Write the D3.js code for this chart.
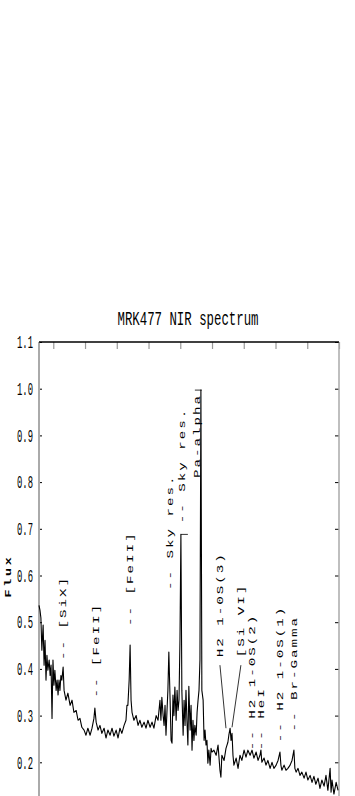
<!DOCTYPE html>
<html>
<head>
<meta charset="utf-8">
<script src="https://cdn.jsdelivr.net/npm/d3@7"></script>
<style>
  body { margin: 0; background: #fff; }
  svg { display: block; }
</style>
</head>
<body>
<div class="chart"></div>
<script>
// spectrum (wavelength in micron, flux arbitrary)
var wavelength = [1.405,1.408,1.411,1.414,1.418,1.421,1.424,1.427,1.430,1.433,1.437,1.440,1.443,1.446,1.449,1.452,1.455,1.459,1.462,1.465,1.468,1.471,1.474,1.477,1.481,1.484,1.490,1.496,1.503,1.509,1.515,1.522,1.528,1.534,1.540,1.547,1.553,1.559,1.566,1.572,1.578,1.581,1.585,1.591,1.597,1.603,1.610,1.616,1.622,1.629,1.635,1.641,1.648,1.654,1.660,1.666,1.673,1.679,1.682,1.685,1.689,1.692,1.695,1.698,1.704,1.711,1.717,1.723,1.729,1.736,1.742,1.748,1.755,1.761,1.767,1.774,1.780,1.786,1.789,1.792,1.796,1.799,1.802,1.805,1.808,1.811,1.814,1.818,1.821,1.824,1.827,1.830,1.833,1.837,1.840,1.843,1.846,1.849,1.852,1.855,1.859,1.862,1.865,1.868,1.871,1.874,1.877,1.881,1.884,1.887,1.890,1.893,1.896,1.900,1.903,1.906,1.909,1.912,1.915,1.918,1.922,1.925,1.928,1.931,1.934,1.937,1.940,1.944,1.947,1.950,1.956,1.963,1.969,1.975,1.978,1.981,1.988,1.994,2.000,2.003,2.007,2.010,2.013,2.016,2.019,2.026,2.032,2.038,2.044,2.051,2.057,2.063,2.070,2.076,2.082,2.089,2.095,2.101,2.104,2.107,2.114,2.120,2.126,2.133,2.139,2.145,2.152,2.158,2.164,2.167,2.170,2.177,2.183,2.189,2.196,2.202,2.208,2.211,2.215,2.221,2.227,2.233,2.240,2.246,2.252,2.259,2.265,2.271,2.277,2.284,2.290,2.296,2.303,2.309,2.315,2.322,2.325,2.328,2.334,2.341,2.347];
var flux = [0.536,0.526,0.509,0.440,0.494,0.408,0.461,0.376,0.429,0.397,0.419,0.386,0.408,0.294,0.419,0.365,0.397,0.354,0.376,0.344,0.376,0.354,0.386,0.376,0.404,0.354,0.333,0.348,0.322,0.333,0.307,0.311,0.290,0.294,0.275,0.269,0.258,0.273,0.258,0.273,0.294,0.316,0.286,0.269,0.279,0.262,0.273,0.252,0.269,0.258,0.273,0.256,0.269,0.252,0.273,0.262,0.279,0.290,0.322,0.322,0.376,0.451,0.333,0.307,0.290,0.300,0.279,0.290,0.275,0.286,0.273,0.290,0.275,0.286,0.273,0.300,0.290,0.333,0.290,0.339,0.300,0.279,0.322,0.258,0.307,0.354,0.436,0.333,0.247,0.241,0.344,0.300,0.361,0.290,0.354,0.311,0.333,0.460,0.688,0.354,0.258,0.333,0.279,0.354,0.290,0.237,0.363,0.269,0.322,0.226,0.290,0.247,0.279,0.258,0.307,0.333,0.354,0.419,0.997,0.354,0.333,0.247,0.269,0.237,0.247,0.198,0.226,0.194,0.230,0.222,0.226,0.215,0.237,0.183,0.168,0.215,0.204,0.230,0.243,0.258,0.273,0.247,0.262,0.215,0.194,0.209,0.187,0.215,0.204,0.226,0.211,0.226,0.215,0.226,0.209,0.222,0.204,0.215,0.226,0.200,0.209,0.194,0.204,0.187,0.200,0.187,0.194,0.204,0.222,0.194,0.183,0.194,0.183,0.187,0.194,0.204,0.226,0.187,0.179,0.187,0.172,0.179,0.166,0.179,0.162,0.172,0.157,0.170,0.153,0.166,0.144,0.162,0.149,0.172,0.140,0.187,0.136,0.162,0.132,0.157,0.140];

// line identifications: where each label starts (bottom of rotated text)
var lineNames = ["-- [SiX]","-- [FeII]","-- [FeII]","-- Sky res.","-- Sky res.","Pa-alpha","H2 1-0S(3)","[Si VI]","-- H2 1-0S(2)","-- HeI","-- H2 1-0S(1)","-- Br-Gamma"];
var lineWave  = [1.481,1.585,1.692,1.818,1.855,1.903,1.975,2.041,2.076,2.104,2.164,2.208];
var lineFlux  = [0.419,0.339,0.492,0.569,0.712,0.809,0.425,0.425,0.226,0.226,0.243,0.266];

// leader lines from label to line peak: [w1, f1, w2, f2]
var leaders = [
  [1.975, 0.408, 1.994, 0.273],
  [2.041, 0.408, 2.013, 0.275],
  [1.896, 0.997, 1.918, 0.997],
  [1.852, 0.688, 1.874, 0.688]
];

var xTicks = [1.45,1.55,1.65,1.75,1.85,1.95,2.05,2.15,2.25,2.35];
var yTicks = [0.1,0.2,0.3,0.4,0.5,0.6,0.7,0.8,0.9,1.0,1.1];
var yLabels = [0.2,0.3,0.4,0.5,0.6,0.7,0.8,0.9,1.0,1.1];

var width = 355, height = 796;
var plotLeft = 39, plotRight = 339, plotTop = 342, plotBottom = 809;

var svg = d3.select(".chart").append("svg")
    .attr("width", width)
    .attr("height", height);

var x = d3.scaleLinear().domain([1.405, 2.35]).range([plotLeft, plotRight]);
var y = d3.scaleLinear().domain([0.1, 1.1]).range([plotBottom, plotTop]);

/************* title ***************/
svg.append("text")
    .attr("x", 188)
    .attr("y", 325)
    .attr("text-anchor", "middle")
    .attr("textLength", 141)
    .attr("lengthAdjust", "spacingAndGlyphs")
    .style("font-family", "Liberation Mono, monospace")
    .style("font-size", "20px")
    .text("MRK477 NIR spectrum");

/************* axes ***************/
var topAxis = svg.append("g")
    .attr("transform", "translate(0," + plotTop + ")")
    .call(d3.axisTop(x).tickValues(xTicks).tickSize(-7).tickFormat(""));
topAxis.select(".domain").remove();
topAxis.selectAll("line").attr("stroke", "#999").attr("stroke-width", 1.2);

var bottomAxis = svg.append("g")
    .attr("transform", "translate(0," + plotBottom + ")")
    .call(d3.axisBottom(x).tickValues(xTicks).tickSize(-7).tickFormat(""));
bottomAxis.select(".domain").remove();
bottomAxis.selectAll("line").attr("stroke", "#999");

var leftAxis = svg.append("g")
    .attr("transform", "translate(" + plotLeft + ",0)")
    .call(d3.axisLeft(y).tickValues(yTicks).tickSize(-3).tickFormat(""));
leftAxis.select(".domain").remove();
leftAxis.selectAll("line").attr("stroke", "#000");

var leftLabels = svg.append("g")
    .attr("transform", "translate(" + plotLeft + ",0)")
    .call(d3.axisLeft(y).tickValues(yLabels).tickSize(0).tickPadding(6).tickFormat(d3.format(".1f")));
leftLabels.select(".domain").remove();
leftLabels.selectAll("text")
    .attr("textLength", 16)
    .attr("lengthAdjust", "spacingAndGlyphs")
    .style("font-family", "Liberation Mono, monospace")
    .style("font-size", "18px")
    .attr("fill", "#000");

var rightAxis = svg.append("g")
    .attr("transform", "translate(" + plotRight + ",0)")
    .call(d3.axisRight(y).tickValues(yTicks).tickSize(-4).tickFormat(""));
rightAxis.select(".domain").remove();
rightAxis.selectAll("line").attr("stroke", "#000");

// frame: grey sides, black top
svg.append("line").attr("x1", plotLeft).attr("x2", plotLeft).attr("y1", plotTop).attr("y2", plotBottom)
    .attr("stroke", "#aaa").attr("stroke-width", 2);
svg.append("line").attr("x1", plotRight).attr("x2", plotRight).attr("y1", plotTop).attr("y2", plotBottom)
    .attr("stroke", "#aaa").attr("stroke-width", 1.5);
svg.append("line").attr("x1", plotLeft).attr("x2", plotRight).attr("y1", plotTop).attr("y2", plotTop)
    .attr("stroke", "#000").attr("stroke-width", 1.5);
svg.append("line").attr("x1", plotLeft).attr("x2", plotRight).attr("y1", plotBottom).attr("y2", plotBottom)
    .attr("stroke", "#000").attr("stroke-width", 1.5);

// y label
svg.append("text")
    .attr("transform", "translate(11,576) rotate(-90) scale(1.4,1)")
    .attr("text-anchor", "middle")
    .style("font-family", "Liberation Mono, monospace")
    .style("font-size", "9.5px")
    .style("font-weight", "bold")
    .style("letter-spacing", "2px")
    .text("Flux");

/************* spectrum ***************/
var spec = wavelength.map(function(w, i) { return [w, flux[i]]; });

svg.append("path")
    .datum(spec)
    .attr("fill", "none")
    .attr("stroke", "#000")
    .attr("stroke-width", 1.1)
    .attr("stroke-linejoin", "round")
    .attr("d", d3.line().x(d => x(d[0])).y(d => y(d[1])));

/************* line ids ***************/
svg.append("g")
    .selectAll("line")
    .data(leaders)
    .enter().append("line")
        .attr("x1", d => x(d[0]))
        .attr("y1", d => y(d[1]))
        .attr("x2", d => x(d[2]))
        .attr("y2", d => y(d[3]))
        .attr("stroke", "#000")
        .attr("stroke-width", 0.8);

// labels are stretched along the reading direction, like the plotting font
svg.append("g")
    .selectAll("text")
    .data(lineNames)
    .enter().append("text")
        .attr("transform", function(d, i) {
            return "translate(" + x(lineWave[i]) + "," + y(lineFlux[i]) + ") rotate(-90) scale(1.5,1)";
        })
        .attr("dy", "0.35em")
        .style("font-family", "Liberation Mono, monospace")
        .style("font-size", "9.5px")
        .style("letter-spacing", "1.3px")
        .text(d => d);
</script>
</body>
</html>
